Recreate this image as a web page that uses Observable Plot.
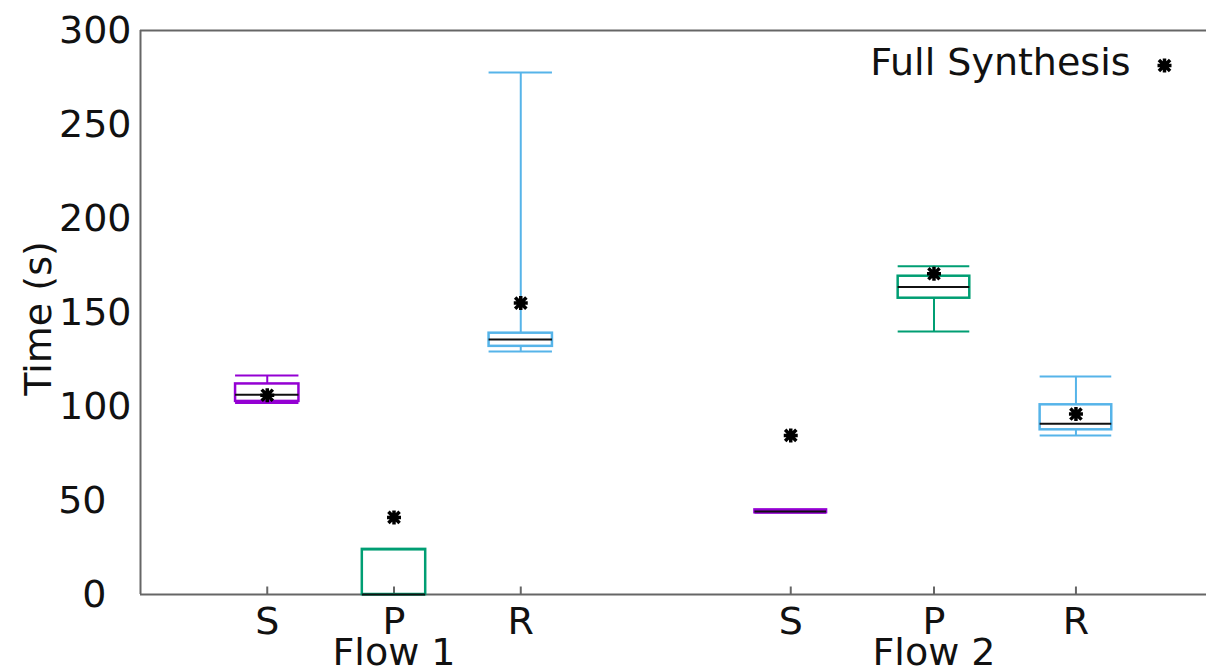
<!DOCTYPE html>
<html>
<head>
<meta charset="utf-8">
<script src="https://cdn.jsdelivr.net/npm/d3@7"></script>
<script src="https://cdn.jsdelivr.net/npm/@observablehq/plot@0.6"></script>
<style>
  html, body { margin: 0; padding: 0; background: #fff; }
</style>
</head>
<body>
<div id="chart"></div>
<script>
// ---- data ----
const groups   = ["Flow 1", "Flow 1", "Flow 1", "Flow 2", "Flow 2", "Flow 2"];
const methods  = ["S", "P", "R", "S", "P", "R"];
const xpos     = [1, 2, 3, 5.13, 6.26, 7.38];
const whiskerLow  = [101.8, 0,    129.3, 43.5, 139.9, 84.6];
const boxLow      = [102.7, 0,    132.0, 43.5, 157.6, 87.6];
const median      = [106.2, 0,    135.6, 44.2, 163.5, 90.8];
const boxHigh     = [112.0, 24.0, 139.0, 45.0, 169.3, 100.9];
const whiskerHigh = [116.5, 24.0, 277.7, 45.0, 174.6, 116.0];
const fullSynthesis = [106, 41, 155, 84.6, 170.6, 96];
const yTicks = [0, 50, 100, 150, 200, 250, 300];
const groupLabels = ["Flow 1", "Flow 2"];
const methodColors = {S: "#9400D3", P: "#009E73", R: "#56B4E9"};

// ---- table ----
const rows = xpos.map((x, i) => {
  // box half-width: a quarter of the spacing between boxes in the group
  const sameGroup = xpos.filter((_, j) => groups[j] === groups[i]);
  const half = (sameGroup[1] - sameGroup[0]) * 0.25;
  return {
    group: groups[i], method: methods[i], x, x1: x - half, x2: x + half,
    wlo: whiskerLow[i], blo: boxLow[i], med: median[i], bhi: boxHigh[i], whi: whiskerHigh[i],
    full: fullSynthesis[i]
  };
});
const groupRows = groupLabels.map(g => {
  const xs = rows.filter(r => r.group === g).map(r => r.x);
  return {label: g, x: xs[1]};
});
const longTicks = yTicks.filter(d => String(d).length >= 3);
const shortTicks = yTicks.filter(d => String(d).length < 3);

// custom symbols
const star = {
  draw(ctx, size) {
    const r = 7;
    ctx.moveTo(-r, 0); ctx.lineTo(r, 0);
    ctx.moveTo(0, -r); ctx.lineTo(0, r);
    const d = r * 0.8;
    ctx.moveTo(-d, -d); ctx.lineTo(d, d);
    ctx.moveTo(-d, d); ctx.lineTo(d, -d);
  }
};
const tickUp = {
  draw(ctx, size) { ctx.moveTo(0, 0); ctx.lineTo(0, -8); }
};

const axisColor = "#666";
const color = m => methodColors[m];

const plot = Plot.plot({
  width: 1206,
  height: 670,
  marginLeft: 140,
  marginRight: 0,
  marginTop: 30,
  marginBottom: 76,
  style: {fontFamily: "'DejaVu Sans', sans-serif", fontSize: "38px", color: "#111", background: "#fff"},
  x: {domain: [0, 8.41], axis: null},
  y: {domain: [0, 300], axis: null},
  marks: [
    // frame: left, top, bottom
    Plot.ruleX([0], {stroke: axisColor, strokeWidth: 2}),
    Plot.ruleY([0, 300], {stroke: axisColor, strokeWidth: 2}),
    // inward x ticks
    Plot.dot(rows, {x: "x", y: () => 0, symbol: tickUp, stroke: axisColor, strokeWidth: 2, fill: "none"}),
    // y tick labels (short labels sit one digit further left, as in the reference)
    Plot.text(longTicks, {x: () => 0, y: d => d, text: d => String(d), textAnchor: "end", lineAnchor: "middle", dx: -9, fill: "#111"}),
    Plot.text(shortTicks, {x: () => 0, y: d => d, text: d => String(d), textAnchor: "end", lineAnchor: "middle", dx: -34, fill: "#111"}),
    // whiskers
    Plot.ruleX(rows, {x: "x", y1: "bhi", y2: "whi", stroke: d => color(d.method), strokeWidth: 2}),
    Plot.ruleX(rows, {x: "x", y1: "wlo", y2: "blo", stroke: d => color(d.method), strokeWidth: 2}),
    Plot.ruleY(rows, {x1: "x1", x2: "x2", y: "whi", stroke: d => color(d.method), strokeWidth: 2}),
    Plot.ruleY(rows, {x1: "x1", x2: "x2", y: "wlo", stroke: d => color(d.method), strokeWidth: 2}),
    // boxes
    Plot.rect(rows, {x1: "x1", x2: "x2", y1: "blo", y2: "bhi", fill: "none", stroke: d => color(d.method), strokeWidth: 2.5}),
    // medians
    Plot.ruleY(rows, {x1: "x1", x2: "x2", y: "med", stroke: "#111", strokeWidth: 2}),
    // full synthesis
    Plot.dot(rows, {x: "x", y: "full", symbol: star, stroke: "#000", strokeWidth: 3.5, fill: "none"}),
    // x tick labels
    Plot.text(rows, {x: "x", frameAnchor: "bottom", lineAnchor: "middle", text: "method", dy: 27, fill: "#111"}),
    // group labels
    Plot.text(groupRows, {x: "x", frameAnchor: "bottom", lineAnchor: "middle", text: "label", dy: 58, fill: "#111"}),
    // y label
    Plot.text(["Time (s)"], {frameAnchor: "left", text: d => d, rotate: -90, textAnchor: "middle", lineAnchor: "middle",
      dx: -102, dy: 6, fill: "#111"}),
    // legend
    Plot.text(["Full Synthesis"], {frameAnchor: "top-right", text: d => d, textAnchor: "end", lineAnchor: "middle",
      dx: -76, dy: 32, fill: "#111"}),
    Plot.dot([0], {frameAnchor: "top-right", dx: -42, dy: 35, symbol: star, stroke: "#000", strokeWidth: 3.5, fill: "none"})
  ]
});
document.getElementById("chart").appendChild(plot);
</script>
</body>
</html>
